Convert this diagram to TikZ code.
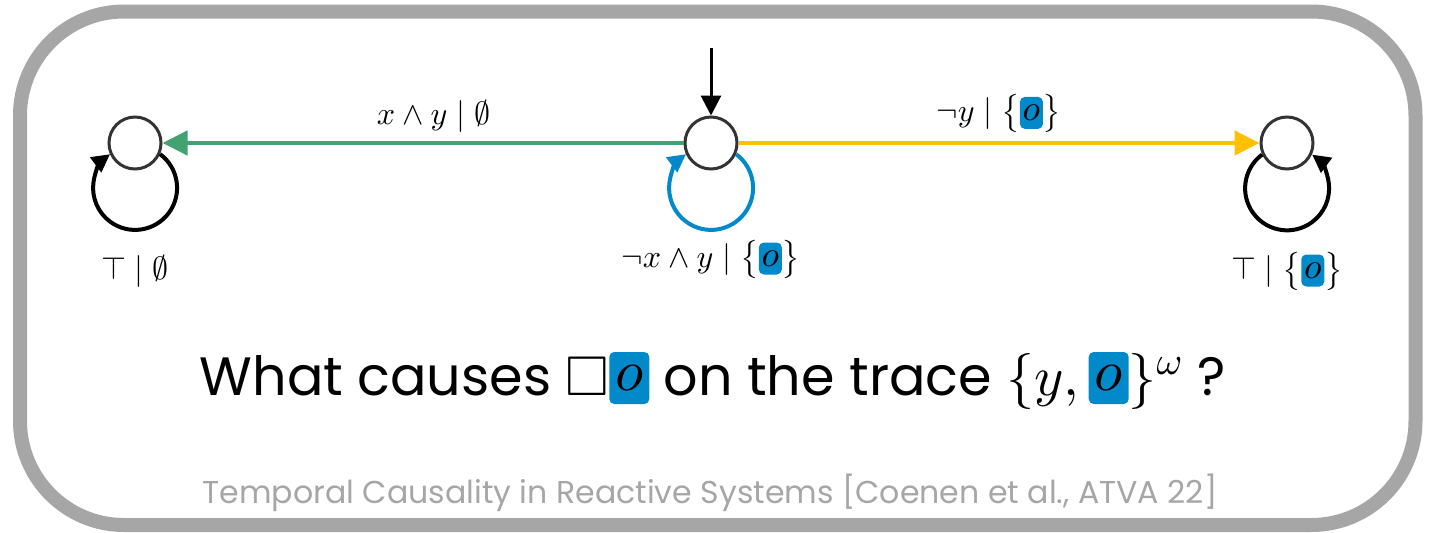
\documentclass[tikz,border=0pt]{standalone}
\usepackage{amsmath}
\usepackage{amssymb}
\usepackage{fontspec}
\setmainfont{Poppins}
\usepackage{xcolor}
\usepackage{tikz}
\usetikzlibrary{arrows.meta, positioning}

\DeclareFontShape{OML}{cmm}{m}{it}{<->cmmi10}{}
\DeclareFontShape{OMS}{cmsy}{m}{n}{<->cmsy10}{}

\definecolor{edgegreen}{HTML}{43A271}
\definecolor{edgeyellow}{HTML}{FFC000}
\definecolor{outblue}{HTML}{0289C9}
\definecolor{framegray}{HTML}{A6A6A6}

\newcommand{\outo}[4]{\tikz[baseline={([yshift=-#3]ob.center)}]\node[fill=outblue, rounded corners=2.5pt, inner sep=0pt, minimum width=#1, minimum height=#2, font=\fontsize{#4}{#4}\selectfont] (ob) {$o$};}
\newcommand{\bigmath}[1]{{\fontsize{28}{34}\selectfont$#1$}}

\begin{document}
\begin{tikzpicture}[x=0.5pt, y=0.5pt,
  state/.style={circle, draw=black!80, line width=1.5pt, minimum size=26pt, inner sep=0pt},
  lbl/.style={font=\fontsize{16}{19}\selectfont, text=black, inner sep=2pt},
  trans/.style={line width=2.3pt, -{Triangle[length=12.5pt, width=12pt]}},
  selfloop/.style={line width=2pt, -{Triangle[length=9pt, width=9pt]}}
]
  \useasboundingbox (0,0) rectangle (1432,532);
  \draw[framegray, line width=7pt, rounded corners=52pt] (20,7) rectangle (1415.5,520.5);

  \node[state] (q1) at (711,389) {};
  \node[state, left=260.5pt of q1] (q0) {};
  \node[state, right=260.5pt of q1] (q2) {};
  \coordinate[above=33.75pt of q1] (start);

  \draw[line width=1.5pt, -{Triangle[length=10pt, width=10pt]}] (start) -- (q1);
  \draw[trans, edgegreen] (q1) -- node[lbl, above=2pt, pos=0.48] {$x \land y \mid \emptyset$} (q0);
  \draw[trans, edgeyellow] (q1) -- node[lbl, above=2pt] {$\neg y \mid \bigl\{\outo{11.5pt}{16pt}{4.5pt}{18}\bigr\}$} (q2);

  \draw[selfloop] (q0.-24.3) arc[start angle=53.4, end angle=-233.4, radius=42];
  \draw[selfloop, outblue] (q1.-24.3) arc[start angle=53.4, end angle=-233.4, radius=42];
  \draw[selfloop] (q2.-155.7) arc[start angle=126.6, end angle=413.4, radius=42];

  \node[lbl, below=54.5pt of q0, anchor=base] (l0) {$\top \mid \emptyset$};
  \node[lbl, below=48.5pt of q1, anchor=base] (l1) {$\neg x \land y \mid \bigl\{\outo{11.5pt}{16pt}{4.5pt}{18}\bigr\}$};
  \node[lbl, below=54.5pt of q2, anchor=base] (l2) {$\top \mid \bigl\{\outo{11.5pt}{16pt}{4.5pt}{18}\bigr\}$};

  \node[font=\fontsize{27}{33}\selectfont, anchor=base] (ask) at (713,137)
    {What causes \bigmath{\Box\outo{20pt}{26pt}{8.5pt}{29}} on the trace \bigmath{\{y,\outo{20pt}{26pt}{8.5pt}{29}\}^{\omega}} ?};
  \node[font=\fontsize{15.8}{19}\selectfont, text=framegray, anchor=base] (cite) at (710,29)
    {Temporal Causality in Reactive Systems [Coenen et al., ATVA 22]};
\end{tikzpicture}
\end{document}
